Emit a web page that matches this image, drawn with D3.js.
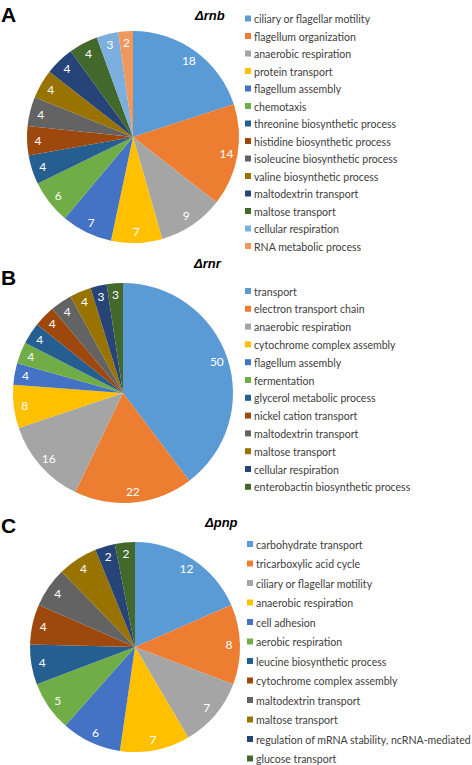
<!DOCTYPE html>
<html>
<head>
<meta charset="utf-8">
<script src="https://cdn.jsdelivr.net/npm/d3@7"></script>
<style>
  html, body { margin: 0; padding: 0; background: #fff; }
  svg { display: block; }
</style>
</head>
<body>
<svg id="chart" width="472" height="765"></svg>
<script>
// ---------- DATA ----------
const palette = ["#5B9BD5","#ED7D31","#A5A5A5","#FFC000","#4472C4","#70AD47",
                 "#255E91","#9E480E","#636363","#997300","#264478","#43682B",
                 "#7CAFDD","#F1975A"];

const catsA = ["ciliary or flagellar motility","flagellum organization","anaerobic respiration",
  "protein transport","flagellum assembly","chemotaxis","threonine biosynthetic process",
  "histidine biosynthetic process","isoleucine biosynthetic process","valine biosynthetic process",
  "maltodextrin transport","maltose transport","cellular respiration","RNA metabolic process"];
const valsA = [18,14,9,7,7,6,4,4,4,4,4,4,3,2];

const catsB = ["transport","electron transport chain","anaerobic respiration",
  "cytochrome complex assembly","flagellum assembly","fermentation","glycerol metabolic process",
  "nickel cation transport","maltodextrin transport","maltose transport","cellular respiration",
  "enterobactin biosynthetic process"];
const valsB = [50,22,16,8,4,4,4,4,4,4,3,3];

const catsC = ["carbohydrate transport","tricarboxylic acid cycle","ciliary or flagellar motility",
  "anaerobic respiration","cell adhesion","aerobic respiration","leucine biosynthetic process",
  "cytochrome complex assembly","maltodextrin transport","maltose transport",
  "regulation of mRNA stability, ncRNA-mediated","glucose transport"];
const valsC = [12,8,7,7,6,5,4,4,4,4,2,2];

const panelLetters = ["A","B","C"];
const panelTitles = ["rnb","rnr","pnp"];

// ---------- LAYOUT ----------
const panels = [
  {cats: catsA, vals: valsA, cx: 133, cy: 137, r: 106, letterY: 22, titleX: 195, titleY: 20,
   legX: 245, legY: 18.5, legStep: 17.5},
  {cats: catsB, vals: valsB, cx: 123, cy: 393, r: 110, letterY: 285, titleX: 194, titleY: 268,
   legX: 245, legY: 291, legStep: 17.8},
  {cats: catsC, vals: valsC, cx: 135, cy: 647, r: 105, letterY: 533, titleX: 205, titleY: 527,
   legX: 247, legY: 544, legStep: 19.5}
];

const svg = d3.select("#chart");
const font = "Lato, 'Open Sans', sans-serif";

panels.forEach((p, i) => {
  const g = svg.append("g");
  const color = d3.scaleOrdinal().domain(p.cats).range(palette);
  const pie = d3.pie().sort(null).value(d => d.v);
  const data = p.cats.map((c, k) => ({c, v: p.vals[k]}));
  const arcs = pie(data);
  const arc = d3.arc().innerRadius(0).outerRadius(p.r);
  const labelArc = d3.arc().innerRadius(p.r - 11).outerRadius(p.r - 11);

  const pg = g.append("g").attr("transform", `translate(${p.cx},${p.cy})`);
  pg.selectAll("path").data(arcs).join("path")
    .attr("d", arc)
    .attr("fill", d => color(d.data.c));
  pg.selectAll("text").data(arcs).join("text")
    .attr("transform", d => `translate(${labelArc.centroid(d)})`)
    .attr("text-anchor", "middle")
    .attr("dominant-baseline", "central")
    .attr("fill", "#fff")
    .attr("font-family", font)
    .attr("font-size", 12)
    .text(d => d.data.v);

  // panel letter
  g.append("text").attr("x", 1).attr("y", p.letterY)
    .attr("font-family", "'Liberation Sans', Arial, sans-serif")
    .attr("font-weight", "bold").attr("font-size", 21)
    .text(panelLetters[i]);

  // title
  const t = g.append("text").attr("x", p.titleX).attr("y", p.titleY)
    .attr("font-family", "'Liberation Sans', Arial, sans-serif")
    .attr("font-weight", "bold").attr("font-style", "italic").attr("font-size", 13);
  t.append("tspan").text("Δ");
  t.append("tspan").text(panelTitles[i]);

  // legend
  const lg = g.append("g");
  const items = lg.selectAll("g").data(p.cats).join("g")
    .attr("transform", (d, k) => `translate(${p.legX},${p.legY + k * p.legStep})`);
  items.append("rect").attr("x", 0).attr("y", -3).attr("width", 6).attr("height", 6)
    .attr("fill", d => color(d));
  items.append("text").attr("x", 0).attr("y", 0)
    .attr("transform", "translate(9,0) scale(0.96,1)")
    .attr("dominant-baseline", "central")
    .attr("font-family", font).attr("font-size", 11).attr("fill", "#404040")
    .text(d => d);
});
</script>
</body>
</html>
